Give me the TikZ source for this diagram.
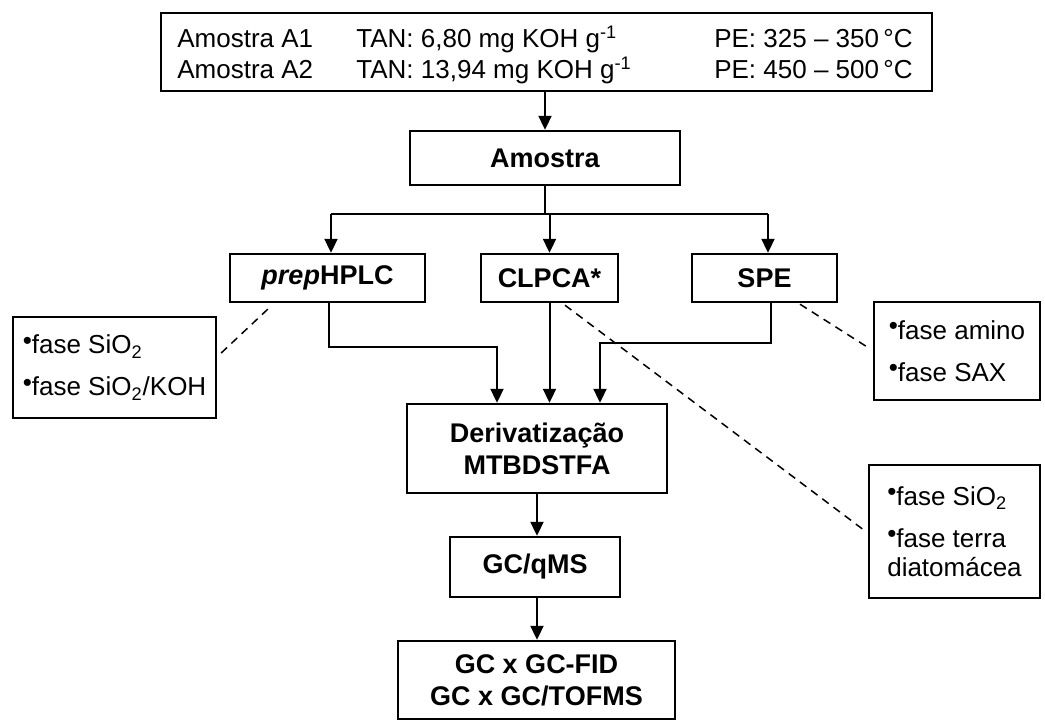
\documentclass[tikz,border=0pt]{standalone}
\usepackage{fontspec}
\setmainfont{Liberation Sans}
\usetikzlibrary{arrows.meta}
\newcommand{\bul}{\raisebox{0.18em}{•}}
\begin{document}
\begin{tikzpicture}[x=0.5pt,y=-0.5pt,
  every node/.style={font=\fontsize{13}{15.5}\selectfont, inner sep=0pt},
  box/.style={draw, line width=1.2pt, rectangle, align=center},
  bbox/.style={box, font=\fontsize{13.5}{16}\selectfont\bfseries},
  txt/.style={anchor=base west},
  arr/.style={line width=1pt, -{Triangle[length=7pt,width=6.5pt]}},
  ln/.style={line width=1pt},
  dsh/.style={line width=0.75pt, dash pattern=on 4pt off 3pt},
  lst/.style={box, align=left, font=\fontsize{13}{14.5}\selectfont}
]
\useasboundingbox (0,0) rectangle (1045,724);

% top box
\node[box, minimum width=385.5pt, minimum height=39pt] (top) at (546.5,52) {};
\node[txt] (a1) at (177,47) {Amostra A1};
\node[txt] (a2) at (177,78) {Amostra A2};
\node[txt] (t1) at (356,47) {TAN: 6,80 mg KOH g\textsuperscript{-1}};
\node[txt] (t2) at (356,78) {TAN: 13,94 mg KOH g\textsuperscript{-1}};
\node[anchor=base east] (p1) at (913,47) {PE: 325 – 350\,°C};
\node[anchor=base east] (p2) at (913,78) {PE: 450 – 500\,°C};

% main boxes
\node[bbox, minimum width=135pt, minimum height=27pt] (am) at (545,158) {Amostra};
\node[bbox, minimum width=97.5pt, minimum height=24pt] (prep) at (327.5,278) {\textit{prep}HPLC};
\node[bbox, minimum width=68.5pt, minimum height=24pt] (clpca) at (549.5,278) {CLPCA*};
\node[bbox, minimum width=72.5pt, minimum height=24pt] (spe) at (764.5,278) {SPE};
\node[bbox, minimum width=130pt, minimum height=44.5pt] (deriv) at (537,448.5) {Derivatização\\MTBDSTFA};
\node[bbox, minimum width=85pt, minimum height=30pt] (gcq) at (535,567) {GC/qMS};
\node[bbox, minimum width=138.5pt, minimum height=39pt] (gcgc) at (536.5,680) {GC x GC-FID\\GC x GC/TOFMS};

% side boxes
\node[lst, minimum width=101.5pt, minimum height=50.5pt] (lbox) at (114.5,367.5)
  {\bul fase SiO\textsubscript{2}\\[6.5pt]\bul fase SiO\textsubscript{2}/KOH};
\node[lst, minimum width=83pt, minimum height=49pt] (rbox1) at (957,351)
  {\bul fase amino\\[6.5pt]\bul fase SAX};
\node[lst, minimum width=85.5pt, minimum height=66.5pt] (rbox2) at (954.5,531.5)
  {\bul fase SiO\textsubscript{2}\\[6.5pt]\bul fase terra\\diatomácea};

% connectors
\draw[arr] (am.north |- top.south) -- (am.north);
\coordinate (hl) at (331,214);
\coordinate (hr) at (768,214);
\draw[ln] (am.south) -- (am.south |- hl);
\draw[ln] (hl) -- (hr);
\draw[arr] (hl) -- (hl |- prep.north);
\draw[arr] (clpca.north |- hl) -- (clpca.north);
\draw[arr] (hr) -- (hr |- spe.north);

\coordinate (pj) at (329,347);
\coordinate (pd) at (497,347);
\draw[arr] (pj |- prep.south) -- (pj) -- (pd) -- (pd |- deriv.north);
\draw[arr] (clpca.south) -- (clpca.south |- deriv.north);
\coordinate (sj) at (771,343);
\coordinate (sd) at (600,343);
\draw[arr] (sj |- spe.south) -- (sj) -- (sd) -- (sd |- deriv.north);

\draw[arr] (deriv.south) -- (deriv.south |- gcq.north);
\draw[arr] (gcq.south -| deriv.south) -- (deriv.south |- gcgc.north);

% dashed leaders
\draw[dsh] ([shift={(4,-14.5)}]lbox.east) -- ([shift={(-55.5,2)}]prep.south);
\draw[dsh] ([shift={(15.5,2)}]clpca.south) -- ([shift={(-2,0)}]rbox2.west);
\draw[dsh] ([shift={(35.5,1)}]spe.south) -- ([shift={(-4,-3)}]rbox1.west);
\end{tikzpicture}
\end{document}
